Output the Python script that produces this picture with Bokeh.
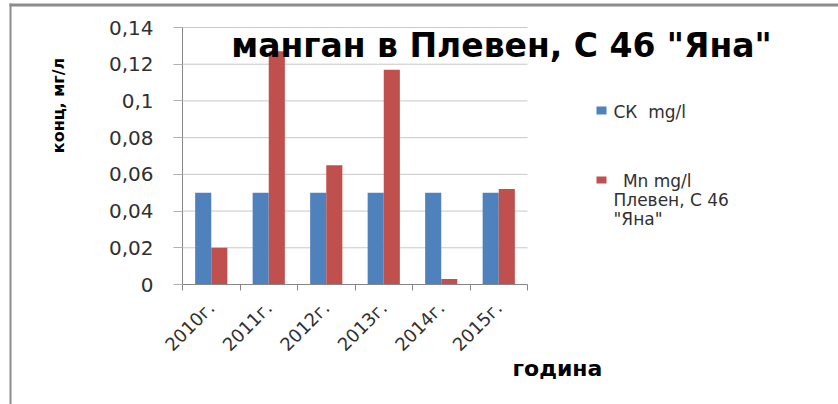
import math
from bokeh.plotting import figure
from bokeh.models import (Range1d, FixedTicker, CustomJSTickFormatter, Label,
                          BoxAnnotation, ColumnDataSource, LinearAxis)
from bokeh.transform import dodge
from bokeh.embed import file_html
from bokeh.resources import INLINE

# ---- data ----
years = ["2010г.", "2011г.", "2012г.", "2013г.", "2014г.", "2015г."]
ck_values = [0.05, 0.05, 0.05, 0.05, 0.05, 0.05]
mn_values = [0.02, 0.127, 0.065, 0.117, 0.003, 0.052]
y_ticks = [0, 0.02, 0.04, 0.06, 0.08, 0.1, 0.12, 0.14]
y_labels = ["0", "0,02", "0,04", "0,06", "0,08", "0,1", "0,12", "0,14"]
title_text = 'манган в Плевен, С 46 "Яна"'
ck_name = "СК\u00a0 mg/l"
mn_name_lines = ["\u00a0Mn mg/l", "Плевен, С 46", '"Яна"']
x_title = "година"
y_title = "конц, мг/л"

W, H = 838, 404
FL, FR, FT, FB = 182, 527, 27, 284  # plot-area edges in pixels

n = len(years)
ymin, ymax = y_ticks[0], y_ticks[-1]
xs = (FR - FL) / n
ys = (FB - FT) / (ymax - ymin)

pos = [i + 0.5 for i in range(n)]
src = ColumnDataSource(dict(x=pos, ck=ck_values, mn=mn_values))
grid_src = ColumnDataSource(dict(y=y_ticks[1:]))

p = figure(width=W, height=H, output_backend="svg", toolbar_location=None,
           x_axis_location=None, y_axis_location=None,
           x_range=Range1d(-FL / xs, (W - FL) / xs),
           y_range=Range1d(ymin - (H - FB) / ys, ymin + FB / ys),
           min_border=0, min_border_left=0, min_border_right=0,
           min_border_top=0, min_border_bottom=0)
p.title = None
p.outline_line_color = None
p.background_fill_color = "white"
p.border_fill_color = "white"
for g in p.grid:
    g.visible = False

# gridlines, limited to the plot area
p.segment(x0=0, x1=n, y0="y", y1="y", source=grid_src, line_color="#c8c8c8", line_width=1)

bw = 0.28
blue = "#4f81bd"
red = "#c0504d"
p.vbar(x=dodge("x", -bw / 2, range=p.x_range), top="ck", width=bw, source=src,
       fill_color=blue, line_color=None)
p.vbar(x=dodge("x", bw / 2, range=p.x_range), top="mn", width=bw, source=src,
       fill_color=red, line_color=None)

# x axis
xa = LinearAxis(fixed_location=ymin, bounds=(0, n))
xa.ticker = FixedTicker(ticks=pos, minor_ticks=list(range(n + 1)))
xa.formatter = CustomJSTickFormatter(args=dict(cats=years),
                                     code="return cats[Math.round(tick - 0.5)] || '';")
xa.major_tick_out = 0
xa.major_tick_in = 0
xa.minor_tick_out = 6
xa.minor_tick_in = 0
xa.minor_tick_line_color = "#868686"
xa.axis_line_color = "#868686"
xa.major_label_orientation = math.pi / 4
xa.major_label_text_font = "DejaVu Sans"
xa.major_label_text_font_size = "18px"
xa.major_label_text_color = "#303030"
xa.major_label_standoff = 14
p.add_layout(xa, "below")

# y axis
ya = LinearAxis(fixed_location=0, bounds=(ymin, ymax))
ya.ticker = FixedTicker(ticks=y_ticks)
ya.formatter = CustomJSTickFormatter(args=dict(t=y_ticks, l=y_labels), code="""
let best = 0;
for (let i = 0; i < t.length; i++) { if (Math.abs(t[i] - tick) < Math.abs(t[best] - tick)) best = i; }
return l[best];
""")
ya.minor_tick_line_color = None
ya.major_tick_out = 9
ya.major_tick_in = 0
ya.major_tick_line_color = "#b0b0b0"
ya.axis_line_color = "#868686"
ya.major_label_text_font = "DejaVu Sans"
ya.major_label_text_font_size = "20px"
ya.major_label_text_color = "#303030"
ya.major_label_standoff = 20
p.add_layout(ya, "left")

C = dict(x_units="canvas", y_units="canvas")
B = dict(left_units="canvas", right_units="canvas", top_units="canvas", bottom_units="canvas")

# outer frame (left and top edges)
frame_col = "#8c8c8c"
p.add_layout(BoxAnnotation(left=9, right=11, top=3, bottom=H,
                           fill_color=frame_col, fill_alpha=1, line_color=None, **B))
p.add_layout(BoxAnnotation(left=9, right=W, top=3, bottom=6,
                           fill_color=frame_col, fill_alpha=1, line_color=None, **B))

# title
p.add_layout(Label(x=501, y=45, text=title_text, text_align="center",
                   text_baseline="middle", text_font="DejaVu Sans",
                   text_font_style="bold", text_font_size="33px", text_color="black", **C))

# axis titles
p.add_layout(Label(x=58, y=105, text=y_title, angle=math.pi / 2,
                   text_align="center", text_baseline="middle", text_font="DejaVu Sans",
                   text_font_style="bold", text_font_size="16px", text_color="black", **C))
p.add_layout(Label(x=557, y=368, text=x_title, text_align="center",
                   text_baseline="middle", text_font="DejaVu Sans",
                   text_font_style="bold", text_font_size="22px", text_color="black", **C))

# legend
p.add_layout(BoxAnnotation(left=596, right=606, top=106, bottom=114,
                           fill_color=blue, fill_alpha=1, line_color=None, **B))
p.add_layout(Label(x=613, y=111, text=ck_name, text_align="left",
                   text_baseline="middle", text_font="DejaVu Sans",
                   text_font_size="17px", text_color="#303030", **C))
p.add_layout(BoxAnnotation(left=596, right=606, top=176, bottom=183,
                           fill_color=red, fill_alpha=1, line_color=None, **B))
for i, line in enumerate(mn_name_lines):
    p.add_layout(Label(x=613 if i else 617, y=180 + 19 * i, text=line,
                       text_align="left", text_baseline="middle",
                       text_font="DejaVu Sans", text_font_size="17px",
                       text_color="#303030", **C))

open("out.html", "w").write(file_html(p, INLINE))
